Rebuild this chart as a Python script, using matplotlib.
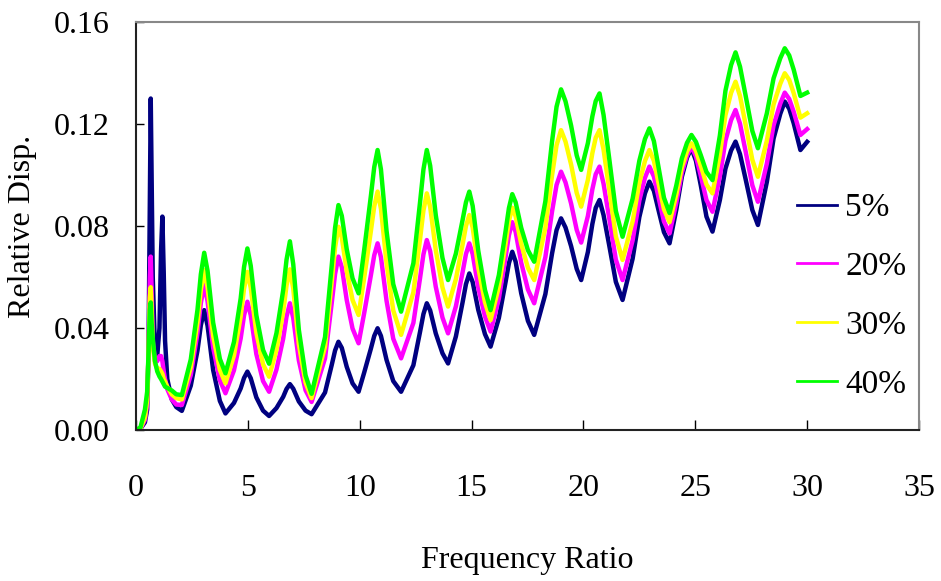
import matplotlib
matplotlib.use("Agg")
import matplotlib.pyplot as plt

freq_ratio = [
    0, 0.2, 0.4, 0.5, 0.56, 0.62, 0.66, 0.7, 0.75, 0.85, 0.95, 1.05, 1.12, 1.18, 1.24, 1.3, 1.4, 1.6, 1.8, 2.05,
    2.45, 2.75, 2.9, 3.05, 3.2, 3.45, 3.75, 4.0,
    4.38, 4.68, 4.83, 4.98, 5.13, 5.38, 5.68, 5.95,
    6.28, 6.58, 6.73, 6.88, 7.03, 7.28, 7.58, 7.85,
    8.45, 8.75, 8.9, 9.05, 9.2, 9.42, 9.68, 9.95,
    10.2, 10.5, 10.65, 10.8, 10.95, 11.2, 11.5, 11.85,
    12.4, 12.7, 12.85, 13.0, 13.15, 13.4, 13.7, 13.95,
    14.3, 14.6, 14.75, 14.9, 15.05, 15.3, 15.6, 15.85,
    16.22, 16.52, 16.67, 16.82, 16.97, 17.22, 17.52, 17.8,
    18.3, 18.6, 18.8, 19.0, 19.2, 19.45, 19.7, 19.9,
    20.2, 20.4, 20.55, 20.72, 20.9, 21.15, 21.45, 21.75,
    22.2, 22.5, 22.75, 22.95, 23.15, 23.35, 23.6, 23.85,
    24.15, 24.4, 24.63, 24.83, 25.03, 25.25, 25.5, 25.77,
    26.1, 26.35, 26.6, 26.8, 27.0, 27.25, 27.55, 27.8,
    28.2, 28.5, 28.8, 29.0, 29.2, 29.4, 29.7, 30.0,
]

disp_5 = [
    0, 0.0005, 0.003, 0.008, 0.03, 0.09, 0.130, 0.098, 0.06, 0.032, 0.029, 0.04, 0.07, 0.0837, 0.062, 0.035, 0.02, 0.012, 0.009, 0.0075,
    0.0174, 0.0312, 0.0411, 0.047, 0.0409, 0.0235, 0.0114, 0.0065,
    0.0106, 0.0163, 0.0204, 0.0229, 0.0203, 0.0128, 0.0076, 0.0055,
    0.0086, 0.013, 0.0161, 0.018, 0.0162, 0.0112, 0.0076, 0.0062,
    0.0147, 0.0255, 0.0312, 0.0346, 0.0322, 0.0248, 0.0183, 0.015,
    0.0225, 0.0319, 0.0369, 0.0399, 0.0369, 0.0275, 0.0192, 0.015,
    0.0254, 0.0386, 0.0455, 0.0497, 0.0469, 0.0379, 0.0301, 0.0261,
    0.0367, 0.0501, 0.0572, 0.0614, 0.058, 0.0471, 0.0376, 0.0327,
    0.0439, 0.058, 0.0654, 0.0699, 0.066, 0.0536, 0.0428, 0.0373,
    0.0533, 0.0693, 0.0784, 0.083, 0.0794, 0.0721, 0.0632, 0.0588,
    0.0698, 0.0808, 0.0871, 0.0902, 0.0843, 0.0726, 0.0581, 0.051,
    0.0672, 0.0835, 0.0928, 0.0974, 0.0938, 0.0865, 0.0776, 0.0732,
    0.0863, 0.0993, 0.1068, 0.1105, 0.1056, 0.0958, 0.0837, 0.0778,
    0.0902, 0.1025, 0.1096, 0.1131, 0.1082, 0.0984, 0.0863, 0.0804,
    0.0973, 0.1143, 0.1240, 0.1288, 0.1260, 0.1203, 0.1098, 0.113,
]

disp_20 = [
    0, 0.0005, 0.004, 0.01, 0.03, 0.06, 0.068, 0.055, 0.035, 0.027, 0.027, 0.029, 0.029, 0.027, 0.023, 0.02, 0.016, 0.012, 0.010, 0.0098,
    0.0216, 0.0381, 0.0498, 0.0569, 0.0505, 0.0323, 0.0195, 0.0144,
    0.0234, 0.0359, 0.0449, 0.0503, 0.045, 0.0298, 0.0192, 0.015,
    0.0237, 0.0358, 0.0445, 0.0497, 0.0439, 0.0273, 0.0156, 0.011,
    0.0281, 0.0498, 0.0612, 0.068, 0.0639, 0.051, 0.0398, 0.034,
    0.0458, 0.0607, 0.0685, 0.0732, 0.0678, 0.0507, 0.0358, 0.0281,
    0.042, 0.0597, 0.0689, 0.0745, 0.0701, 0.0562, 0.0441, 0.0379,
    0.0485, 0.0619, 0.069, 0.0732, 0.069, 0.0559, 0.0445, 0.0386,
    0.0515, 0.0678, 0.0764, 0.0815, 0.0777, 0.0656, 0.0551, 0.0497,
    0.0678, 0.0858, 0.0961, 0.1013, 0.0971, 0.0888, 0.0785, 0.0735,
    0.0839, 0.0944, 0.1003, 0.1033, 0.0966, 0.0833, 0.0668, 0.0588,
    0.0744, 0.09, 0.0989, 0.1033, 0.0994, 0.0915, 0.0818, 0.0771,
    0.089, 0.1009, 0.1077, 0.1111, 0.1073, 0.0996, 0.0902, 0.0856,
    0.0996, 0.1135, 0.1215, 0.1255, 0.1201, 0.1093, 0.096, 0.0895,
    0.1045, 0.1195, 0.128, 0.1323, 0.1298, 0.1248, 0.1157, 0.118,
]

disp_30 = [
    0, 0.0006, 0.005, 0.012, 0.03, 0.052, 0.056, 0.048, 0.033, 0.026, 0.024, 0.024, 0.023, 0.022, 0.02, 0.019, 0.017, 0.014, 0.0125, 0.012,
    0.0247, 0.0424, 0.0551, 0.0627, 0.056, 0.0369, 0.0236, 0.0183,
    0.0292, 0.0445, 0.0554, 0.062, 0.0558, 0.0382, 0.0258, 0.0209,
    0.0314, 0.0462, 0.0567, 0.063, 0.0554, 0.0337, 0.0186, 0.0125,
    0.0327, 0.0582, 0.0716, 0.0797, 0.0755, 0.0624, 0.051, 0.0451,
    0.0596, 0.078, 0.0877, 0.0935, 0.0868, 0.0654, 0.0469, 0.0373,
    0.054, 0.075, 0.0861, 0.0928, 0.0875, 0.0706, 0.0559, 0.0484,
    0.0592, 0.0728, 0.08, 0.0843, 0.0794, 0.0637, 0.0501, 0.0431,
    0.0563, 0.0731, 0.0819, 0.0872, 0.0838, 0.073, 0.0636, 0.0588,
    0.0794, 0.1, 0.1117, 0.1176, 0.1131, 0.1041, 0.093, 0.0876,
    0.0981, 0.1086, 0.1146, 0.1176, 0.11, 0.0947, 0.0759, 0.0667,
    0.0818, 0.0969, 0.1055, 0.1098, 0.1056, 0.0971, 0.0866, 0.0815,
    0.0923, 0.1031, 0.1093, 0.1124, 0.1095, 0.1036, 0.0963, 0.0928,
    0.1081, 0.1235, 0.1322, 0.1366, 0.131, 0.1198, 0.106, 0.0993,
    0.1135, 0.1277, 0.1358, 0.1399, 0.1373, 0.1321, 0.1225, 0.1242,
]

disp_40 = [
    0, 0.001, 0.008, 0.015, 0.03, 0.047, 0.050, 0.042, 0.036, 0.027, 0.023, 0.021, 0.020, 0.019, 0.018, 0.017, 0.0165, 0.0155, 0.014, 0.0137,
    0.0277, 0.0472, 0.0611, 0.0695, 0.0624, 0.0421, 0.0279, 0.0222,
    0.0345, 0.0516, 0.0639, 0.0712, 0.0644, 0.045, 0.0314, 0.026,
    0.038, 0.0548, 0.0668, 0.074, 0.065, 0.0393, 0.0214, 0.0142,
    0.0364, 0.0645, 0.0793, 0.0882, 0.084, 0.0709, 0.0595, 0.0536,
    0.0705, 0.0918, 0.1031, 0.1098, 0.1022, 0.0781, 0.0572, 0.0464,
    0.0654, 0.0895, 0.1022, 0.1098, 0.1037, 0.0843, 0.0675, 0.0588,
    0.0692, 0.0824, 0.0893, 0.0935, 0.0879, 0.0703, 0.0549, 0.047,
    0.0607, 0.0779, 0.087, 0.0925, 0.0893, 0.0793, 0.0705, 0.066,
    0.0897, 0.1133, 0.1268, 0.1336, 0.1289, 0.1194, 0.1077, 0.102,
    0.1125, 0.123, 0.129, 0.132, 0.1236, 0.1067, 0.0859, 0.0758,
    0.0907, 0.1056, 0.1141, 0.1183, 0.1133, 0.1034, 0.0911, 0.0851,
    0.0958, 0.1065, 0.1126, 0.1157, 0.113, 0.1077, 0.1012, 0.098,
    0.1155, 0.1331, 0.1431, 0.1481, 0.1425, 0.1312, 0.1173, 0.1105,
    0.1242, 0.1379, 0.1458, 0.1497, 0.1469, 0.1413, 0.131, 0.1323,
]

series_labels = ["5%", "20%", "30%", "40%"]
series_colors = ["#000080", "#FF00FF", "#FFFF00", "#00FF00"]
x_ticks = [0, 5, 10, 15, 20, 25, 30, 35]
y_ticks = [0.00, 0.04, 0.08, 0.12, 0.16]

FONT = ["Liberation Serif", "DejaVu Serif"]

fig = plt.figure(figsize=(9.41, 5.81), dpi=100)
ax = fig.add_axes([0.1445, 0.2599, 0.9766 - 0.1445, 0.9621 - 0.2599])

for ys, lab, col in zip([disp_5, disp_20, disp_30, disp_40], series_labels, series_colors):
    ax.plot(freq_ratio, ys, color=col, lw=3.2, label=lab, solid_joinstyle="round")

ax.set_xlim(0, 35)
ax.set_ylim(0, 0.16)
ax.set_xticks(x_ticks)
ax.set_yticks(y_ticks)
ax.set_xticklabels([str(t) for t in x_ticks], fontfamily=FONT, fontsize=23)
ax.set_yticklabels(["%.2f" % t for t in y_ticks], fontfamily=FONT, fontsize=23)
ax.tick_params(axis="x", direction="in", length=7, width=1, pad=32, top=False)
ax.tick_params(axis="y", direction="in", length=6, width=1, pad=19, right=False)

for s in ["left", "bottom"]:
    ax.spines[s].set_color("#222222")
    ax.spines[s].set_linewidth(1.5)
for s in ["top", "right"]:
    ax.spines[s].set_color("#888888")
    ax.spines[s].set_linewidth(1.5)

ax.set_xlabel("Frequency Ratio", fontfamily=FONT, fontsize=23, labelpad=31)
ax.set_ylabel("Relative Disp.", fontfamily=FONT, fontsize=23)
ax.yaxis.set_label_coords(-0.127, 0.5)

leg = ax.legend(loc="upper left", bbox_to_anchor=(0.806, 0.655), frameon=False,
                prop={"family": FONT, "size": 24},
                handlelength=1.2, labelspacing=0.85, handletextpad=0.25)
for h in leg.get_lines():
    h.set_linewidth(2.0)

fig.savefig("out.png", dpi=100)
